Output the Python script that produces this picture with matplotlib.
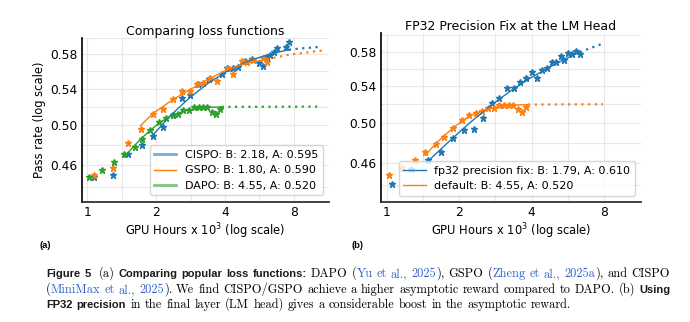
import matplotlib
matplotlib.use('Agg')
import matplotlib.pyplot as plt
from matplotlib.lines import Line2D
from matplotlib.ticker import NullFormatter

# ---- data ----
cispo_x = [1.07, 1.29, 1.50, 1.73, 1.94, 2.15, 2.36, 2.59, 2.80, 3.04, 3.42, 3.87, 4.10,
           4.35, 4.58, 4.90, 5.24, 5.66, 5.89, 6.10, 6.30, 6.56, 6.78, 7.40, 7.63]
cispo_y = [0.4485, 0.4510, 0.4712, 0.4801, 0.4892, 0.4987, 0.5110, 0.5290, 0.5327, 0.5447,
           0.5508, 0.5567, 0.5636, 0.5636, 0.5643, 0.5720, 0.5743, 0.5692, 0.5664, 0.5771,
           0.5792, 0.5832, 0.5872, 0.5885, 0.5952]
cispo_fit_x = [1.91, 2.30, 2.81, 3.44, 4.21, 5.15, 6.30, 7.61]
cispo_fit_y = [0.4884, 0.5100, 0.5300, 0.5475, 0.5618, 0.5727, 0.5802, 0.5855]
cispo_ext_x = [7.61, 8.7, 10.6]
cispo_ext_y = [0.5855, 0.5872, 0.5892]

gspo_x = [1.07, 1.29, 1.51, 1.72, 1.94, 2.15, 2.37, 2.59, 2.80, 3.01, 3.22, 3.44, 3.68,
          4.12, 4.35, 4.74, 4.98, 5.29, 5.89, 6.10]
gspo_y = [0.4513, 0.4573, 0.4817, 0.4963, 0.5120, 0.5170, 0.5278, 0.5370, 0.5370, 0.5447,
          0.5466, 0.5516, 0.5488, 0.5636, 0.5567, 0.5720, 0.5712, 0.5731, 0.5752, 0.5712]
gspo_fit_x = [1.71, 1.94, 2.38, 2.80, 3.33, 4.07, 4.98, 6.10]
gspo_fit_y = [0.4998, 0.5128, 0.5280, 0.5384, 0.5497, 0.5613, 0.5692, 0.5741]
gspo_ext_x = [6.10, 7.71, 10.6]
gspo_ext_y = [0.5741, 0.5797, 0.5845]

dapo_x = [1.02, 1.16, 1.31, 1.45, 1.61, 1.73, 1.88, 2.05, 2.20, 2.36, 2.49, 2.63, 2.79,
          2.94, 3.08, 3.22, 3.35, 3.50, 3.66, 3.81]
dapo_y = [0.4491, 0.4554, 0.4636, 0.4712, 0.4784, 0.4858, 0.4953, 0.5035, 0.5082, 0.5106,
          0.5124, 0.5163, 0.5163, 0.5191, 0.5191, 0.5191, 0.5197, 0.5145, 0.5120, 0.5170]
dapo_fit_x = [1.45, 1.60, 1.75, 1.90, 2.05, 2.20, 2.40, 2.65, 2.95, 3.30, 3.87]
dapo_fit_y = [0.4680, 0.4790, 0.4880, 0.4955, 0.5020, 0.5070, 0.5115, 0.5150, 0.5175, 0.5190, 0.5197]
dapo_ext_a = [3.87, 10.6]
dapo_ext_b = [3.87, 7.93]
dapo_ext_y = [0.5197, 0.5200]

fp32_x = [1.05, 1.26, 1.48, 1.68, 1.88, 2.09, 2.31, 2.52, 2.73, 2.93, 3.15, 3.37, 3.59,
          3.80, 4.00, 4.22, 4.43, 4.63, 4.87, 5.05, 5.28, 5.46, 5.68, 5.91, 6.14, 6.35]
fp32_y = [0.4407, 0.4547, 0.4633, 0.4707, 0.4851, 0.4934, 0.4943, 0.5056, 0.5211, 0.5272,
          0.5374, 0.5383, 0.5448, 0.5487, 0.5563, 0.5496, 0.5583, 0.5606, 0.5673, 0.5677,
          0.5745, 0.5700, 0.5781, 0.5770, 0.5806, 0.5770]
fp32_fit_x = [1.48, 1.83, 2.22, 2.69, 3.25, 3.94, 4.76, 5.50, 6.35]
fp32_fit_y = [0.4617, 0.4820, 0.5005, 0.5180, 0.5340, 0.5488, 0.5618, 0.5710, 0.5795]
fp32_ext_x = [6.35, 7.12, 7.93]
fp32_ext_y = [0.5795, 0.5850, 0.5900]

xticks = [1, 2, 4, 8]
xminor = [1.414, 2.828, 5.657]
yticks = [0.46, 0.50, 0.54, 0.58]
yminor = [0.44, 0.48, 0.52, 0.56, 0.60]

labels_a = ['CISPO: B: 2.18, A: 0.595', 'GSPO: B: 1.80, A: 0.590', 'DAPO: B: 4.55, A: 0.520']
labels_b = ['fp32 precision fix: B: 1.79, A: 0.610', 'default: B: 4.55, A: 0.520']

BLUE, ORANGE, GREEN = '#1f77b4', '#ff7f0e', '#2ca02c'
LINK = '#2e62c9'

W, H = 690, 322
fig = plt.figure(figsize=(W / 100, H / 100), dpi=100)
ax1 = fig.add_axes([82 / W, 1 - 201.6 / H, 247 / W, 163.6 / H])
ax2 = fig.add_axes([381 / W, 1 - 201.7 / H, 260 / W, 168.4 / H])


def style(ax, ylim, title):
    ax.set_xscale('log', base=2)
    ax.set_yscale('log')
    ax.set_xlim(0.948, 11.4)
    ax.set_xticks(xticks)
    ax.set_xticklabels([str(t) for t in xticks])
    ax.set_xticks(xminor, minor=True)
    ax.set_yticks(yticks)
    ax.set_yticklabels(['%.2f' % t for t in yticks])
    ax.set_yticks(yminor, minor=True)
    ax.xaxis.set_minor_formatter(NullFormatter())
    ax.yaxis.set_minor_formatter(NullFormatter())
    ax.set_ylim(*ylim)
    ax.grid(True, which='both', color='#e8e8e8', lw=0.8)
    ax.set_axisbelow(True)
    ax.tick_params(which='both', length=0, pad=3, labelsize=8.8)
    for s in ['top', 'right']:
        ax.spines[s].set_visible(False)
    ax.spines['left'].set_color('#111111')
    ax.spines['left'].set_linewidth(1.3)
    ax.spines['bottom'].set_color('#333333')
    ax.spines['bottom'].set_linewidth(1.3)
    ax.set_xlabel('GPU Hours x 10$^3$ (log scale)', fontsize=8.3, labelpad=2)
    ax.set_title(title, fontsize=9, pad=2)


mk = dict(ls='none', marker='*', ms=5)
dot = dict(ls=(0, (1, 2)), lw=1.6)

# panel (a)
ax1.plot(cispo_x, cispo_y, color=BLUE, **mk)
ax1.plot(gspo_x, gspo_y, color=ORANGE, **mk)
ax1.plot(dapo_x, dapo_y, color=GREEN, **mk)
ax1.plot(cispo_fit_x, cispo_fit_y, color=BLUE, lw=1)
ax1.plot(gspo_fit_x, gspo_fit_y, color=ORANGE, lw=1)
ax1.plot(dapo_fit_x, dapo_fit_y, color=GREEN, lw=1)
ax1.plot(cispo_ext_x, cispo_ext_y, color=BLUE, **dot)
ax1.plot(gspo_ext_x, gspo_ext_y, color=ORANGE, **dot)
ax1.plot(dapo_ext_a, dapo_ext_y, color=GREEN, **dot)
style(ax1, (0.4265, 0.600), 'Comparing loss functions')
ax1.set_ylabel('Pass rate (log scale)', fontsize=8.3, labelpad=3)
handles_a = [Line2D([], [], color=BLUE, lw=2, alpha=0.6),
             Line2D([], [], color=ORANGE, lw=1),
             Line2D([], [], color=GREEN, lw=2, alpha=0.6)]
ax1.legend(handles_a, labels_a, loc='lower right', fontsize=8, borderaxespad=0.55)

# panel (b)
ax2.plot(fp32_x, fp32_y, color=BLUE, **mk)
ax2.plot(dapo_x, dapo_y, color=ORANGE, **mk)
ax2.plot(fp32_fit_x, fp32_fit_y, color=BLUE, lw=1)
ax2.plot(dapo_fit_x, dapo_fit_y, color=ORANGE, lw=1)
ax2.plot(fp32_ext_x, fp32_ext_y, color=BLUE, **dot)
ax2.plot(dapo_ext_b, dapo_ext_y, color=ORANGE, **dot)
style(ax2, (0.4247, 0.6026), 'FP32 Precision Fix at the LM Head')
handles_b = [Line2D([], [], color=BLUE, lw=1), Line2D([], [], color=ORANGE, lw=1)]
ax2.legend(handles_b, labels_b, loc='lower right', fontsize=8, borderaxespad=0.55)

# panel tags
fig.text(39 / W, 1 - 246 / H, '(a)', fontsize=6.8, family='Liberation Sans', weight='bold', va='center')
fig.text(352 / W, 1 - 246 / H, '(b)', fontsize=6.8, family='Liberation Sans', weight='bold', va='center')

# caption
STY = {
    'b': dict(family='Liberation Sans', weight='bold', color='#1a1a1a', fontsize=8.0),
    'r': dict(family='cmr10', color='black', fontsize=8.9),
    'l': dict(family='cmr10', color=LINK, fontsize=8.9),
}
line1 = [('Figure 5', 'b'), ('  (a) ', 'r'), ('Comparing popular loss functions:', 'b'),
         (' DAPO (', 'r'), ('Yu et al., 2025', 'l'), ('), GSPO (', 'r'),
         ('Zheng et al., 2025a', 'l'), ('), and CISPO', 'r')]
line2 = [('(', 'r'), ('MiniMax et al., 2025', 'l'),
         ('). We find CISPO/GSPO achieve a higher asymptotic reward compared to DAPO. (b) ', 'r'),
         ('Using', 'b')]
line3 = [('FP32 precision', 'b'),
         (' in the final layer (LM head) gives a considerable boost in the asymptotic reward.', 'r')]

renderer = fig.canvas.get_renderer()


def place(segs, base_y, x0, x1=None):
    items = []
    for txt, key in segs:
        parts = txt.split(' ')
        for i, p in enumerate(parts):
            if i > 0:
                items.append(None)
            if p:
                t = fig.text(0, 1 - base_y / H, p, va='baseline', **STY[key])
                items.append((t, t.get_window_extent(renderer).width))
    words = sum(it[1] for it in items if it is not None)
    ngap = sum(1 for it in items if it is None)
    sp = fig.text(0, 0, 'x x', **STY['r'])
    sp2 = fig.text(0, 0, 'xx', **STY['r'])
    gap = sp.get_window_extent(renderer).width - sp2.get_window_extent(renderer).width
    sp.remove()
    sp2.remove()
    if x1 is not None and ngap:
        gap = (x1 - x0 - words) / ngap
    x = x0
    for it in items:
        if it is None:
            x += gap
        else:
            it[0].set_x(x / W)
            x += it[1]


place(line1, 277, 46, 670)
place(line2, 293, 46, 670)
place(line3, 308, 46)

fig.savefig('out.png', dpi=100)
